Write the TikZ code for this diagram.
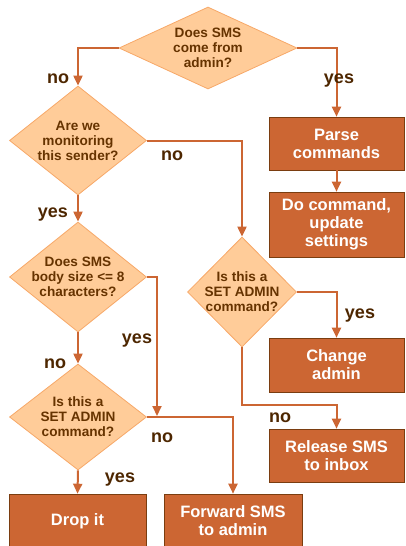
\documentclass[tikz,border=0pt]{standalone}
\usepackage{fontspec}
\setmainfont{Liberation Sans}
\usetikzlibrary{shapes.geometric,arrows.meta}
\definecolor{connc}{HTML}{CC6633}
\definecolor{diafill}{HTML}{FFCC99}
\definecolor{diaedge}{HTML}{F7A868}
\definecolor{boxfill}{HTML}{CC6633}
\definecolor{boxedge}{HTML}{7A3D10}
\definecolor{dtxt}{HTML}{663300}
\definecolor{labtxt}{HTML}{4D2600}
\begin{document}
\begin{tikzpicture}[x=1pt,y=-1pt,
  dia/.style={diamond, draw=diaedge, fill=diafill, line width=0.8pt, inner sep=0pt},
  dtext/.style={font=\fontsize{13.6}{15}\selectfont\bfseries, text=dtxt, align=center, inner sep=0pt},
  box/.style={rectangle, draw=boxedge, fill=boxfill, line width=0.6pt, font=\fontsize{16.5}{18}\selectfont\bfseries, text=white, align=center, inner sep=0pt},
  lab/.style={font=\fontsize{18}{20}\selectfont\bfseries, text=labtxt, anchor=base, inner sep=0pt},
  conn/.style={draw=connc, line width=2pt, -{Triangle[width=9pt,length=10pt]}},
]
\path[use as bounding box] (0,0) rectangle (405,546);
\clip (0,0) rectangle (405,546);

% diamonds
\node[dia, minimum width=178pt, minimum height=82pt] (d1) at (208,48) {};
\node[dtext] (d1t) at (d1) {Does SMS\\come from\\admin?};
\node[dia, minimum width=137pt, minimum height=109pt] (d2) at (78,140.5) {};
\node[dtext] (d2t) at (d2) {Are we\\monitoring\\this sender?};
\node[dia, minimum width=137pt, minimum height=110pt] (d3) at (78,277) {};
\node[dtext] (d3t) at (d3) {Does SMS\\body size <= 8\\characters?};
\node[dia, minimum width=137pt, minimum height=106pt] (d4) at (78,417) {};
\node[dtext] (d4t) at (d4) {Is this a\\SET ADMIN\\command?};
\node[dia, minimum width=109pt, minimum height=110pt] (d5) at (242,292) {};
\node[dtext] (d5t) at (d5) {Is this a\\SET ADMIN\\command?};

% boxes
\node[box, minimum width=135pt, minimum height=53pt] (parse) at (336.5,143.5) {Parse\\commands};
\node[box, minimum width=135pt, minimum height=65pt] (docmd) at (336.5,224.5) {Do command,\\update\\settings};
\node[box, minimum width=135pt, minimum height=54pt] (chg) at (336.5,365) {Change\\admin};
\node[box, minimum width=135pt, minimum height=53pt] (rel) at (336.5,455.5) {Release SMS\\to inbox};
\node[box, minimum width=137pt, minimum height=54pt] (drop) at (77.5,521) {Drop it};
\node[box, minimum width=138pt, minimum height=54pt] (fwd) at (233,521) {Forward SMS\\to admin};

% helper coordinates
\coordinate (j1) at (157,416);
\coordinate (j2) at (290,405);

% connectors
\draw[conn] (d1.west) -| (d2.north);
\draw[conn] (d1.east) -| (parse.north);
\draw[conn] (parse.south) -- (docmd.north);
\draw[conn] (d2.east) -| (d5.north);
\draw[conn] (d2.south) -- (d3.north);
\draw[conn] (d3.east) -| (j1);
\draw[conn] (d3.south) -- (d4.north);
\draw[conn] (d4.east) -| (fwd.north);
\draw[conn] (d4.south) -- (drop.north);
\draw[conn] (d5.east) -| (chg.north);
\draw[conn] (d5.south) |- (j2) -| (rel.north);

% labels
\node[lab] (l1) at (58,83) {no};
\node[lab] (l2) at (339,83) {yes};
\node[lab] (l3) at (172,160) {no};
\node[lab] (l4) at (53,217) {yes};
\node[lab] (l5) at (360,318) {yes};
\node[lab] (l6) at (137,343) {yes};
\node[lab] (l7) at (55,368) {no};
\node[lab] (l8) at (280,422) {no};
\node[lab] (l9) at (162,442) {no};
\node[lab] (l10) at (120,482) {yes};
\end{tikzpicture}
\end{document}
